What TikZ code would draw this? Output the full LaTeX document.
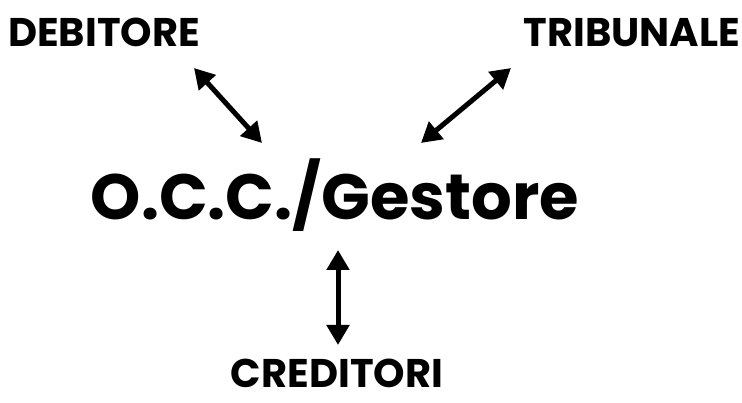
\documentclass[tikz,border=0pt]{standalone}
\usepackage{fontspec}
\setmainfont{Poppins}
\usetikzlibrary{arrows.meta, positioning}

\tikzset{
  party/.style={inner sep=0pt, anchor=base, font=\fontsize{40}{40}\selectfont\bfseries},
  hub/.style={inner sep=0pt, anchor=base, font=\fontsize{64}{64}\selectfont\bfseries},
  link/.style={line width=5pt, {Triangle[length=20pt,width=22pt]}-{Triangle[length=20pt,width=22pt]}}
}

\begin{document}
\begin{tikzpicture}[x=1pt,y=-1pt]
  \useasboundingbox (0,0) rectangle (742,403);

  % Parties
  \node[party] (debitore) at (104,47) {DEBITORE};
  \node[party] (tribunale) at (632,47) {TRIBUNALE};
  \node[hub] (occ) at (335,220) {O.C.C./Gestore};
  \node[party] (creditori) at (337,388) {CREDITORI};

  % Arrow ends
  \coordinate (deb-a) at (194,68);
  \coordinate (deb-b) at (262,143);
  \coordinate (tri-a) at (511,68);
  \coordinate (tri-b) at (421,143);
  \coordinate (cre-a) at (338,250);
  \coordinate (cre-b) at (338,345);

  % Links
  \draw[link] (deb-a) -- (deb-b);
  \draw[link] (tri-a) -- (tri-b);
  \draw[link] (cre-a) -- (cre-b);
\end{tikzpicture}
\end{document}
